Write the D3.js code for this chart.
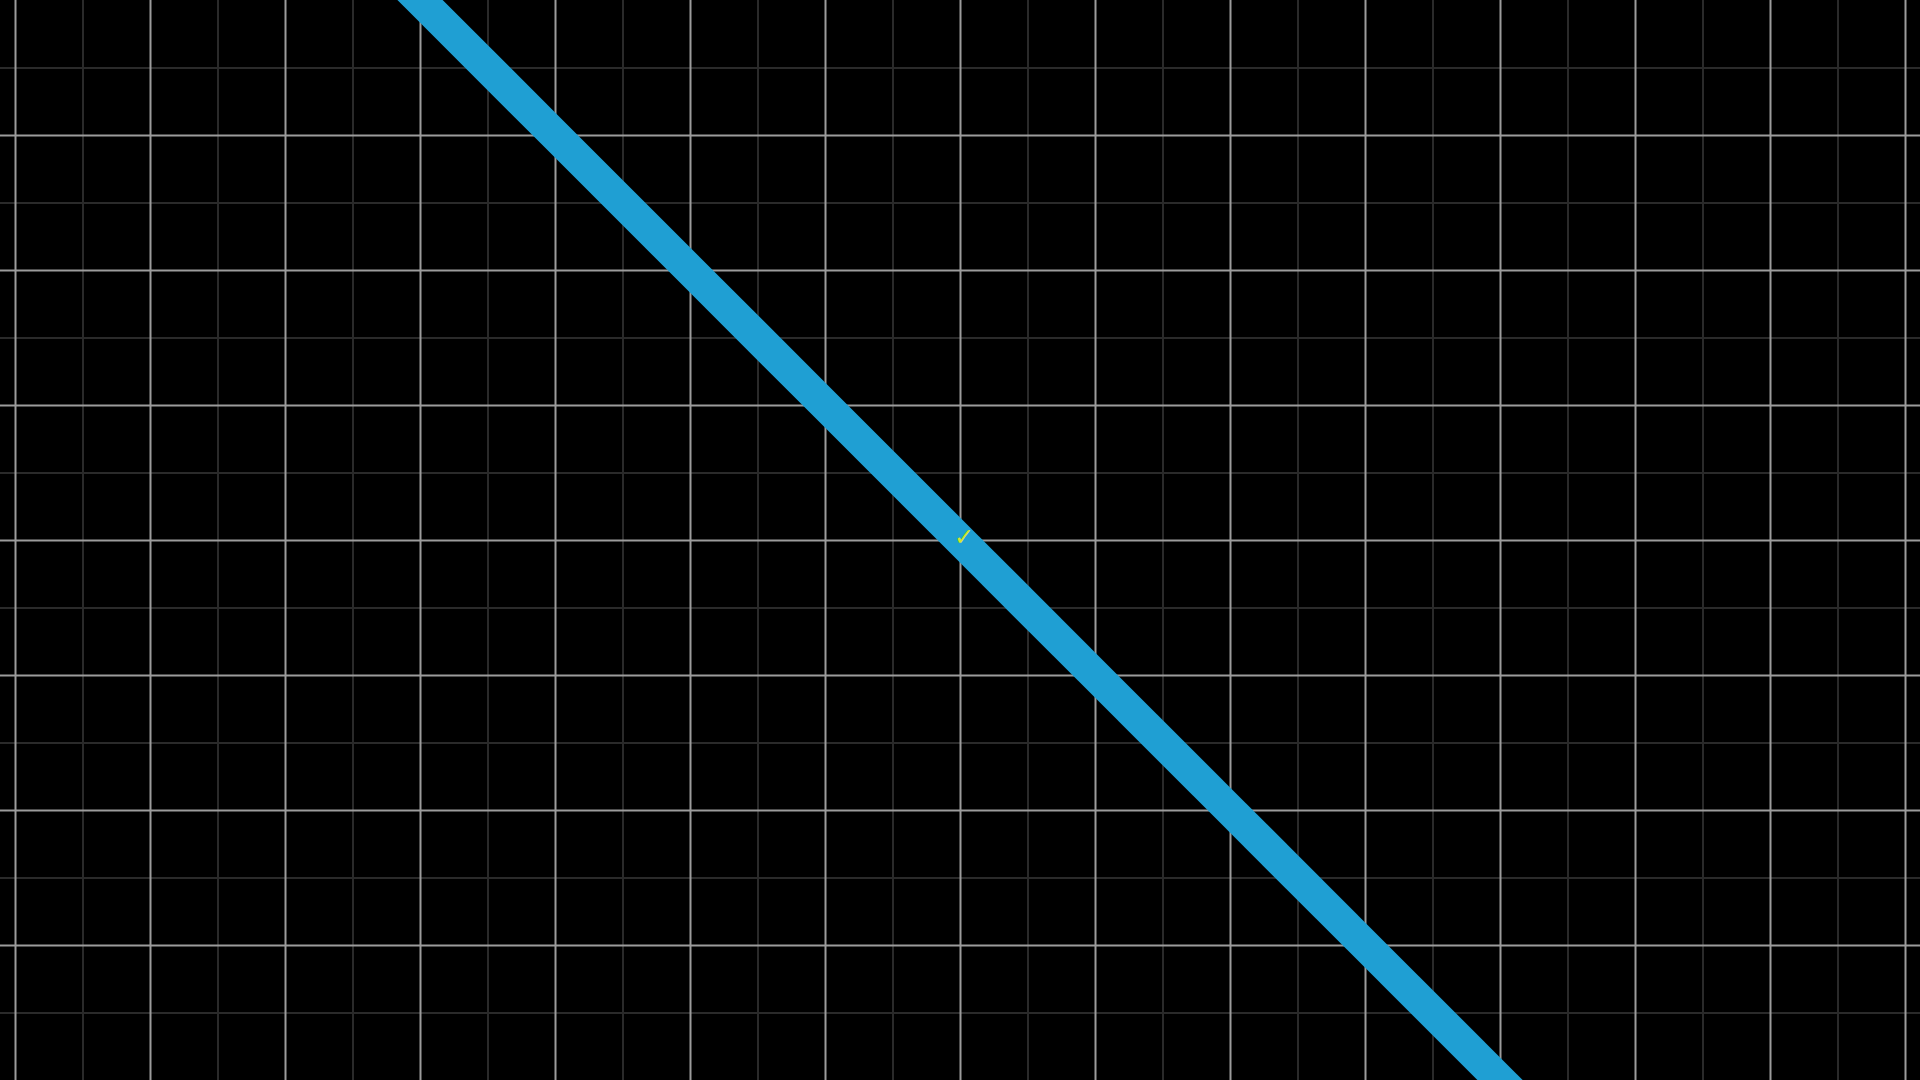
<!DOCTYPE html>
<html>
<head>
<meta charset="utf-8">
<script src="https://cdn.jsdelivr.net/npm/d3@7"></script>
<style>
html,body{margin:0;padding:0;background:#000;overflow:hidden;}
svg{display:block;}
</style>
</head>
<body>
<svg id="chart" width="1920" height="1080"></svg>
<script>
// ---- data ----
const majorXTicks = [-7,-6,-5,-4,-3,-2,-1,0,1,2,3,4,5,6,7];
const minorXTicks = [-7.5,-6.5,-5.5,-4.5,-3.5,-2.5,-1.5,-0.5,0.5,1.5,2.5,3.5,4.5,5.5,6.5];
const majorYTicks = [-3,-2,-1,0,1,2,3];
const minorYTicks = [-3.5,-2.5,-1.5,-0.5,0.5,1.5,2.5,3.5];
const lineX = [-5,-4,-3,-2,-1,0,1,2,3,4,5];
const lineY = [5,4,3,2,1,0,-1,-2,-3,-4,-5];
const markLabel = "✓";
const markX = 0.03, markY = 0.02;

// ---- layout ----
const W = 1920, H = 1080, unit = 135;
const svg = d3.select("#chart");
svg.append("rect").attr("width", W).attr("height", H).attr("fill", "#000");

const x = d3.scaleLinear().domain([-W/2/unit, W/2/unit]).range([0, W]);
const y = d3.scaleLinear().domain([-H/2/unit, H/2/unit]).range([H, 0]);

function grid(ticksX, ticksY, color, cls) {
  const gx = svg.append("g").attr("class", cls + "-x").attr("transform", `translate(0,${H})`)
    .call(d3.axisBottom(x).tickValues(ticksX).tickSize(-H).tickFormat(""));
  gx.select(".domain").remove();
  gx.selectAll("line").attr("stroke", color).attr("stroke-width", 2);
  const gy = svg.append("g").attr("class", cls + "-y")
    .call(d3.axisLeft(y).tickValues(ticksY).tickSize(-W).tickFormat(""));
  gy.select(".domain").remove();
  gy.selectAll("line").attr("stroke", color).attr("stroke-width", 2);
}
grid(minorXTicks, minorYTicks, "#2a2a2a", "minor");
grid(majorXTicks, majorYTicks, "#9c9c9c", "major");

const pts = lineX.map((v, i) => [v, lineY[i]]);
svg.append("path")
  .datum(pts)
  .attr("fill", "none")
  .attr("stroke", "#1f9fd3")
  .attr("stroke-width", 32)
  .attr("d", d3.line().x(d => x(d[0])).y(d => y(d[1])));

svg.append("text")
  .attr("x", x(markX)).attr("y", y(markY))
  .attr("text-anchor", "middle")
  .attr("dominant-baseline", "central")
  .attr("font-family", "DejaVu Sans")
  .attr("font-weight", "bold")
  .attr("font-size", 24)
  .attr("fill", "#d4e62a")
  .text(markLabel);
</script>
</body>
</html>
